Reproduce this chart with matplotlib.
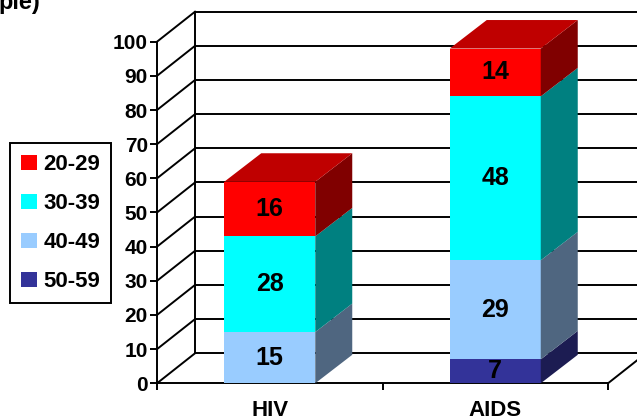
import matplotlib.pyplot as plt
import numpy as np
from matplotlib.patches import Polygon, Patch

plt.rcParams['font.family'] = ['Liberation Sans', 'DejaVu Sans']
plt.rcParams['font.weight'] = 'bold'

categories = ['HIV', 'AIDS']
groups = ['20-29', '30-39', '40-49', '50-59']
# stacked from bottom: 50-59, 40-49, 30-39, 20-29
values = {
    '50-59': [0, 7],
    '40-49': [15, 29],
    '30-39': [28, 48],
    '20-29': [16, 14],
}
front_col = {'20-29': '#FF0000', '30-39': '#00FFFF', '40-49': '#99CCFF', '50-59': '#333399'}
side_col = {'20-29': '#800000', '30-39': '#008080', '40-49': '#4F6680', '50-59': '#1C1C52'}
top_col = {'20-29': '#BF0000', '30-39': '#00BFBF', '40-49': '#7399BF', '50-59': '#262673'}
yticks = np.arange(0, 101, 10)

fig = plt.figure(figsize=(6.37, 4.19), dpi=100)
ax = fig.add_axes([157 / 637, (419 - 383.3) / 419, 451 / 637, 341.6 / 419])
ax.set_xlim(0, 2)
ax.set_ylim(0, 100)

# depth of wall and bars, in data units
wdx, wdy = 38 / 225.5, 30 / 3.416
bdx, bdy = 37 / 225.5, 28.5 / 3.416
bw = 91 / 225.5

lw = 1.4
# walls / grid
for v in yticks:
    ax.plot([0, wdx], [v, v + wdy], color='black', lw=lw, clip_on=False, zorder=1)
    ax.plot([wdx, 2 + wdx], [v + wdy, v + wdy], color='black', lw=lw, clip_on=False, zorder=1)
ax.plot([wdx, wdx], [wdy, 100 + wdy], color='black', lw=lw, clip_on=False, zorder=1)
ax.plot([2, 2 + wdx], [0, wdy], color='black', lw=lw, clip_on=False, zorder=1)

# bars
order = ['50-59', '40-49', '30-39', '20-29']
for i, cat in enumerate(categories):
    xc = i + 0.5
    x0, x1 = xc - bw / 2, xc + bw / 2
    base = 0
    segs = [g for g in order if values[g][i] > 0]
    for k, g in enumerate(segs):
        v = values[g][i]
        y0, y1 = base, base + v
        z = 3 + k
        ax.add_patch(Polygon([(x0, y0), (x1, y0), (x1, y1), (x0, y1)],
                             facecolor=front_col[g], edgecolor='none', clip_on=False, zorder=z))
        ax.add_patch(Polygon([(x1, y0), (x1 + bdx, y0 + bdy), (x1 + bdx, y1 + bdy), (x1, y1)],
                             facecolor=side_col[g], edgecolor='none', clip_on=False, zorder=z))
        if k == len(segs) - 1:
            ax.add_patch(Polygon([(x0, y1), (x1, y1), (x1 + bdx, y1 + bdy), (x0 + bdx, y1 + bdy)],
                                 facecolor=top_col[g], edgecolor='none', clip_on=False, zorder=z))
        ax.text(xc, y0 + v / 2, str(v), ha='center', va='center', fontsize=18,
                fontweight='bold', color='black', zorder=20)
        base = y1

for s in ['top', 'right']:
    ax.spines[s].set_visible(False)
for s in ['left', 'bottom']:
    ax.spines[s].set_linewidth(lw)
    ax.spines[s].set_zorder(2)

ax.set_yticks(yticks)
ax.set_yticklabels([str(t) for t in yticks], fontsize=15, fontweight='bold')
ax.tick_params(axis='y', direction='out', length=5, width=lw, pad=1.5)
ax.set_xticks([0, 1, 2])
ax.set_xticklabels(['', '', ''])
ax.tick_params(axis='x', which='major', direction='out', length=5, width=lw)
ax.set_xticks([0.5, 1.5], minor=True)
ax.set_xticklabels(categories, minor=True, fontsize=16, fontweight='bold')
ax.tick_params(axis='x', which='minor', length=0, pad=12)

handles = [Patch(facecolor=front_col[g], edgecolor='none') for g in groups]
leg = fig.legend(handles, groups, loc='upper left', bbox_to_anchor=(10 / 637, 1 - 143 / 419),
                 borderaxespad=0, prop={'weight': 'bold', 'size': 16},
                 handlelength=0.7, handleheight=0.7, handletextpad=0.3,
                 labelspacing=0.81, borderpad=0.5, fancybox=False, framealpha=1)
leg.get_frame().set_edgecolor('black')
leg.get_frame().set_linewidth(1.4)

fig.text(40 / 637, 1 - 9 / 419, 'ple)', ha='right', va='baseline', fontsize=17, fontweight='bold')

fig.savefig('out.png', dpi=100)
